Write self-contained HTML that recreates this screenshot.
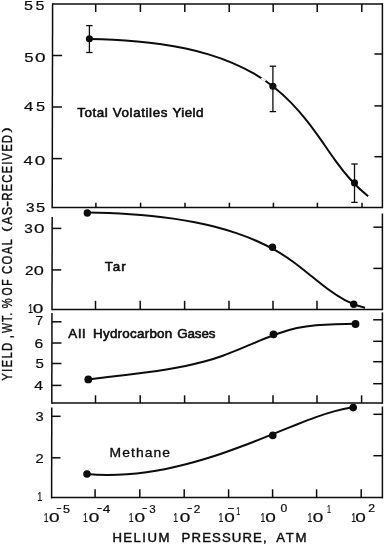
<!DOCTYPE html>
<html lang="en"><head><meta charset="utf-8"><title>Yield vs Helium Pressure</title>
<style>
html,body{margin:0;padding:0;background:#fff}
svg{display:block}
svg line,svg path{stroke:#0c0c0c;stroke-linecap:butt}
svg circle{fill:#0c0c0c;stroke:none}
svg text{font-family:"Liberation Sans","DejaVu Sans",sans-serif;fill:#0c0c0c;stroke:#0c0c0c;stroke-width:0.35px;stroke-linejoin:round}
.tk{stroke-width:0.2px}
.ax{stroke-width:0.4px}
.yl{stroke-width:0.65px}
.lb{stroke-width:0.55px}
.lt{stroke-width:0.3px}
</style></head><body>
<svg width="385" height="545" viewBox="0 0 385 545">
<rect x="0" y="0" width="385" height="545" fill="#fff" stroke="none"/>
<g class="fr">
<line x1="52.6" y1="3.2" x2="52.19" y2="208.2" stroke-width="1.5"/>
<line x1="382.4" y1="3.2" x2="382.4" y2="208.2" stroke-width="1.5"/>
<line x1="52.6" y1="4.1" x2="382.4" y2="4" stroke-width="1.5"/>
<line x1="52.19" y1="207.4" x2="382.4" y2="207.4" stroke-width="1.5"/>
<line x1="52.5" y1="55.5" x2="62.1" y2="55.5" stroke-width="1.5"/>
<line x1="52.39" y1="107" x2="61.99" y2="107" stroke-width="1.5"/>
<line x1="52.29" y1="158.6" x2="61.89" y2="158.6" stroke-width="1.5"/>
<line x1="374.4" y1="54" x2="382.4" y2="54" stroke-width="1.5"/>
<line x1="374.4" y1="105.9" x2="382.4" y2="105.9" stroke-width="1.5"/>
<line x1="374.4" y1="156.7" x2="382.4" y2="156.7" stroke-width="1.5"/>
<line x1="95.7" y1="4" x2="95.7" y2="12" stroke-width="1.5"/>
<line x1="95.9" y1="202.7" x2="95.9" y2="207.4" stroke-width="1.5"/>
<line x1="140.4" y1="4" x2="140.4" y2="12" stroke-width="1.5"/>
<line x1="140.6" y1="202.7" x2="140.6" y2="207.4" stroke-width="1.5"/>
<line x1="184.8" y1="4" x2="184.8" y2="12" stroke-width="1.5"/>
<line x1="185" y1="202.7" x2="185" y2="207.4" stroke-width="1.5"/>
<line x1="229.2" y1="4" x2="229.2" y2="12" stroke-width="1.5"/>
<line x1="229.4" y1="202.7" x2="229.4" y2="207.4" stroke-width="1.5"/>
<line x1="273.2" y1="4" x2="273.2" y2="12" stroke-width="1.5"/>
<line x1="273.4" y1="202.7" x2="273.4" y2="207.4" stroke-width="1.5"/>
<line x1="317.2" y1="4" x2="317.2" y2="12" stroke-width="1.5"/>
<line x1="317.4" y1="202.7" x2="317.4" y2="207.4" stroke-width="1.5"/>
<line x1="361.8" y1="4" x2="361.8" y2="12" stroke-width="1.5"/>
<line x1="362" y1="202.7" x2="362" y2="207.4" stroke-width="1.5"/>
<line x1="52.17" y1="217" x2="51.98" y2="310.2" stroke-width="1.5"/>
<line x1="382.4" y1="213.5" x2="382.4" y2="310.2" stroke-width="1.5"/>
<line x1="51.98" y1="309.4" x2="382.4" y2="309.4" stroke-width="1.5"/>
<line x1="52.15" y1="228.4" x2="61.35" y2="228.4" stroke-width="1.5"/>
<line x1="52.06" y1="269.9" x2="61.26" y2="269.9" stroke-width="1.5"/>
<line x1="373.4" y1="227.2" x2="382.4" y2="227.2" stroke-width="1.5"/>
<line x1="373.4" y1="268.4" x2="382.4" y2="268.4" stroke-width="1.5"/>
<line x1="95.5" y1="300.8" x2="95.5" y2="309.4" stroke-width="1.5"/>
<line x1="140.2" y1="300.8" x2="140.2" y2="309.4" stroke-width="1.5"/>
<line x1="184.6" y1="300.8" x2="184.6" y2="309.4" stroke-width="1.5"/>
<line x1="229" y1="300.8" x2="229" y2="309.4" stroke-width="1.5"/>
<line x1="273" y1="300.8" x2="273" y2="309.4" stroke-width="1.5"/>
<line x1="317" y1="300.8" x2="317" y2="309.4" stroke-width="1.5"/>
<line x1="51.97" y1="313" x2="51.79" y2="403.8" stroke-width="1.5"/>
<line x1="382.4" y1="312.4" x2="382.4" y2="403.8" stroke-width="1.5"/>
<line x1="51.79" y1="403" x2="382.4" y2="403" stroke-width="1.5"/>
<line x1="51.96" y1="321.8" x2="61.56" y2="321.8" stroke-width="1.5"/>
<line x1="51.91" y1="343" x2="61.51" y2="343" stroke-width="1.5"/>
<line x1="51.87" y1="363.5" x2="61.47" y2="363.5" stroke-width="1.5"/>
<line x1="51.83" y1="385.4" x2="61.43" y2="385.4" stroke-width="1.5"/>
<line x1="373.2" y1="319.8" x2="382.4" y2="319.8" stroke-width="1.5"/>
<line x1="373.2" y1="341.3" x2="382.4" y2="341.3" stroke-width="1.5"/>
<line x1="373.2" y1="361.7" x2="382.4" y2="361.7" stroke-width="1.5"/>
<line x1="373.2" y1="383.7" x2="382.4" y2="383.7" stroke-width="1.5"/>
<line x1="95.5" y1="395.3" x2="95.5" y2="403" stroke-width="1.5"/>
<line x1="140.2" y1="395.3" x2="140.2" y2="403" stroke-width="1.5"/>
<line x1="184.6" y1="395.3" x2="184.6" y2="403" stroke-width="1.5"/>
<line x1="229" y1="395.3" x2="229" y2="403" stroke-width="1.5"/>
<line x1="273" y1="395.3" x2="273" y2="403" stroke-width="1.5"/>
<line x1="317" y1="395.3" x2="317" y2="403" stroke-width="1.5"/>
<line x1="361.6" y1="395.3" x2="361.6" y2="403" stroke-width="1.5"/>
<line x1="51.78" y1="407.6" x2="51.6" y2="498.4" stroke-width="1.5"/>
<line x1="382.4" y1="406.5" x2="382.4" y2="498.4" stroke-width="1.5"/>
<line x1="51.6" y1="497.6" x2="382.4" y2="497.6" stroke-width="1.5"/>
<line x1="51.77" y1="416.3" x2="60.57" y2="416.3" stroke-width="1.5"/>
<line x1="51.68" y1="457.8" x2="60.48" y2="457.8" stroke-width="1.5"/>
<line x1="373.4" y1="414.3" x2="382.4" y2="414.3" stroke-width="1.5"/>
<line x1="373.4" y1="455.7" x2="382.4" y2="455.7" stroke-width="1.5"/>
<line x1="95.1" y1="489.3" x2="95.1" y2="497.6" stroke-width="1.5"/>
<line x1="139.8" y1="489.3" x2="139.8" y2="497.6" stroke-width="1.5"/>
<line x1="184.2" y1="489.3" x2="184.2" y2="497.6" stroke-width="1.5"/>
<line x1="228.6" y1="489.3" x2="228.6" y2="497.6" stroke-width="1.5"/>
<line x1="272.6" y1="489.3" x2="272.6" y2="497.6" stroke-width="1.5"/>
<line x1="316.6" y1="489.3" x2="316.6" y2="497.6" stroke-width="1.5"/>
<line x1="361.2" y1="489.3" x2="361.2" y2="497.6" stroke-width="1.5"/>
</g>
<g class="eb">
<line x1="89.4" y1="25.6" x2="89.4" y2="52.5" stroke-width="1.3"/>
<line x1="86.2" y1="25.6" x2="92.6" y2="25.6" stroke-width="1.3"/>
<line x1="86.2" y1="52.5" x2="92.6" y2="52.5" stroke-width="1.3"/>
<line x1="272.9" y1="66.2" x2="272.9" y2="111.6" stroke-width="1.3"/>
<line x1="269.7" y1="66.2" x2="276.1" y2="66.2" stroke-width="1.3"/>
<line x1="269.7" y1="111.6" x2="276.1" y2="111.6" stroke-width="1.3"/>
<line x1="354.5" y1="164" x2="354.5" y2="202.4" stroke-width="1.3"/>
<line x1="351.3" y1="164" x2="357.7" y2="164" stroke-width="1.3"/>
<line x1="351.3" y1="202.4" x2="357.7" y2="202.4" stroke-width="1.3"/>
</g>
<g class="cv">
<path d="M89.79,38.92 C97.43,39.1 105.24,39.37 113.16,39.78 C121.08,40.18 129.12,40.73 137.19,41.46 C145.27,42.2 153.39,43.13 161.5,44.29 C169.6,45.46 177.68,46.88 185.68,48.59 C193.68,50.3 201.59,52.3 209.35,54.66 C217.12,57.01 224.73,59.72 232.13,62.83 C239.53,65.93 246.71,69.44 253.61,73.41 C260.51,77.37 267.13,81.79 273.41,86.72 C279.68,91.64 285.62,97.07 291.23,102.85 C296.84,108.62 302.14,114.75 307.13,121.06 C312.13,127.38 316.79,133.89 321.35,140.44 C325.9,146.99 330.37,153.58 335.05,160.05 C339.73,166.53 344.63,172.89 350.04,178.98 C355.45,185.07 361.38,190.89 368.12,196.29" stroke-width="2.0" fill="none" stroke-linecap="round"/>
<path d="M87.87,212.5 C94.76,212.64 101.75,212.84 108.8,213.12 C115.86,213.4 122.99,213.76 130.15,214.24 C137.32,214.71 144.52,215.3 151.72,216.02 C158.93,216.74 166.15,217.61 173.33,218.63 C180.52,219.66 187.68,220.86 194.78,222.25 C201.88,223.64 208.92,225.23 215.87,227.04 C222.82,228.84 229.68,230.88 236.42,233.16 C243.15,235.44 249.76,237.97 256.22,240.78 C262.68,243.59 268.98,246.68 275.12,250.15 C281.25,253.61 287.21,257.49 293.04,261.76 C298.86,266.02 304.56,270.6 310.25,275.2 C315.94,279.8 321.61,284.42 327.41,288.72 C333.21,293.02 339.14,297 345.35,300.3 C351.57,303.6 358.08,306.22 365.04,307.79" stroke-width="2.0" fill="none" stroke-linecap="round"/>
<path d="M87.93,379.48 C94.64,378.67 101.3,377.89 107.92,377.11 C114.54,376.33 121.12,375.56 127.65,374.76 C134.19,373.96 140.68,373.13 147.13,372.25 C153.59,371.37 160.01,370.43 166.38,369.4 C172.76,368.38 179.1,367.26 185.41,365.98 C191.72,364.69 197.99,363.25 204.23,361.57 C210.47,359.89 216.67,357.97 222.85,355.75 C229.03,353.53 235.17,351.04 241.31,348.45 C247.45,345.87 253.59,343.2 259.73,340.64 C265.88,338.08 272.04,335.62 278.23,333.45 C284.42,331.29 290.65,329.42 296.93,328.04 C303.21,326.66 309.55,325.77 315.96,325.18 C322.37,324.6 328.86,324.32 335.45,324.16 C342.03,324 348.71,323.96 355.51,323.85" stroke-width="2.0" fill="none" stroke-linecap="round"/>
<path d="M86.63,473.98 C93.45,474.55 100.21,474.84 106.91,474.88 C113.62,474.91 120.26,474.69 126.85,474.23 C133.44,473.78 139.97,473.09 146.47,472.2 C152.96,471.31 159.4,470.21 165.81,468.93 C172.22,467.65 178.58,466.19 184.92,464.57 C191.25,462.95 197.55,461.18 203.83,459.28 C210.1,457.37 216.35,455.34 222.58,453.19 C228.81,451.05 235.02,448.8 241.22,446.48 C247.41,444.16 253.6,441.76 259.77,439.32 C265.95,436.88 272.12,434.4 278.29,431.91 C284.46,429.42 290.62,426.92 296.8,424.46 C302.97,422 309.16,419.58 315.35,417.36 C321.54,415.14 327.75,413.1 333.98,411.39 C340.2,409.68 346.45,408.29 352.72,407.36" stroke-width="2.0" fill="none" stroke-linecap="round"/>
</g>
<rect x="262.3" y="77" width="2.2" height="5" fill="#fff" stroke="none" transform="rotate(-55 263.4 79.5)"/>
<g class="pt">
<circle cx="89.4" cy="38.7" r="3.55"/>
<circle cx="272.9" cy="86.2" r="3.55"/>
<circle cx="354.5" cy="182.9" r="3.55"/>
<circle cx="87.3" cy="213" r="3.7"/>
<circle cx="272.5" cy="247.2" r="3.7"/>
<circle cx="353.7" cy="304.2" r="3.7"/>
<circle cx="88.3" cy="379.4" r="3.9"/>
<circle cx="273.5" cy="334.3" r="3.9"/>
<circle cx="355.5" cy="324" r="3.9"/>
<circle cx="87" cy="474" r="3.8"/>
<circle cx="272.8" cy="435.4" r="3.8"/>
<circle cx="353.2" cy="407.6" r="3.8"/>
</g>
<g>
<text y="10.4" font-size="12.7" class="tk"><tspan x="24.12" textLength="8.97" lengthAdjust="spacingAndGlyphs">5</tspan><tspan x="35.42" textLength="8.97" lengthAdjust="spacingAndGlyphs">5</tspan></text>
<text y="61.7" font-size="12.7" class="tk"><tspan x="24.29" textLength="9.31" lengthAdjust="spacingAndGlyphs">5</tspan><tspan x="34.91" textLength="10.57" lengthAdjust="spacingAndGlyphs">0</tspan></text>
<text y="111.4" font-size="12.7" class="tk"><tspan x="24.09" textLength="9.43" lengthAdjust="spacingAndGlyphs">4</tspan><tspan x="36.01" textLength="9.08" lengthAdjust="spacingAndGlyphs">5</tspan></text>
<text y="164.6" font-size="12.7" class="tk"><tspan x="23.49" textLength="9.43" lengthAdjust="spacingAndGlyphs">4</tspan><tspan x="34.82" textLength="10.46" lengthAdjust="spacingAndGlyphs">0</tspan></text>
<text y="212.4" font-size="12.7" class="tk"><tspan x="26.05" textLength="8.51" lengthAdjust="spacingAndGlyphs">3</tspan><tspan x="35.9" textLength="9.2" lengthAdjust="spacingAndGlyphs">5</tspan></text>
<text y="232.6" font-size="12.7" class="tk"><tspan x="24.35" textLength="8.51" lengthAdjust="spacingAndGlyphs">3</tspan><tspan x="34.12" textLength="10.46" lengthAdjust="spacingAndGlyphs">0</tspan></text>
<text y="275.3" font-size="12.7" class="tk"><tspan x="25.05" textLength="8.51" lengthAdjust="spacingAndGlyphs">2</tspan><tspan x="33.74" textLength="10.11" lengthAdjust="spacingAndGlyphs">0</tspan></text>
<text y="313.2" font-size="12.7" class="tk"><tspan x="27.96" textLength="5.08" lengthAdjust="spacingAndGlyphs">1</tspan><tspan x="32.71" textLength="10.57" lengthAdjust="spacingAndGlyphs">0</tspan></text>
<text y="325.3" font-size="12.7" class="tk"><tspan x="35.51" textLength="7.59" lengthAdjust="spacingAndGlyphs">7</tspan></text>
<text y="347.7" font-size="12.7" class="tk"><tspan x="34.43" textLength="8.74" lengthAdjust="spacingAndGlyphs">6</tspan></text>
<text y="368.4" font-size="12.7" class="tk"><tspan x="35.45" textLength="8.39" lengthAdjust="spacingAndGlyphs">5</tspan></text>
<text y="390" font-size="12.7" class="tk"><tspan x="34.32" textLength="8.85" lengthAdjust="spacingAndGlyphs">4</tspan></text>
<text y="421" font-size="12.7" class="tk"><tspan x="35.47" textLength="8.16" lengthAdjust="spacingAndGlyphs">3</tspan></text>
<text y="462.9" font-size="12.7" class="tk"><tspan x="35.47" textLength="8.16" lengthAdjust="spacingAndGlyphs">2</tspan></text>
<text y="500.8" font-size="12.7" class="tk"><tspan x="37.36" textLength="5.08" lengthAdjust="spacingAndGlyphs">1</tspan></text>
</g>
<g>
<text y="521.5" font-size="12.1" class="tk"><tspan x="43.79" textLength="4.84" lengthAdjust="spacingAndGlyphs">1</tspan><tspan x="48.91" textLength="10.57" lengthAdjust="spacingAndGlyphs">0</tspan></text>
<text transform="translate(56.3,511.1) scale(1.65,1)" font-size="10" letter-spacing="0" text-anchor="start" class="tk mn" >-</text>
<text y="512.6" font-size="10" class="tk"><tspan x="63.04" textLength="7.01" lengthAdjust="spacingAndGlyphs">5</tspan></text>
<text y="521.5" font-size="12.1" class="tk"><tspan x="83.09" textLength="4.84" lengthAdjust="spacingAndGlyphs">1</tspan><tspan x="88.71" textLength="10.57" lengthAdjust="spacingAndGlyphs">0</tspan></text>
<text transform="translate(96.7,511.1) scale(1.65,1)" font-size="10" letter-spacing="0" text-anchor="start" class="tk mn" >-</text>
<text y="512.6" font-size="10" class="tk"><tspan x="102.71" textLength="7.59" lengthAdjust="spacingAndGlyphs">4</tspan></text>
<text y="521.5" font-size="12.1" class="tk"><tspan x="128.79" textLength="4.84" lengthAdjust="spacingAndGlyphs">1</tspan><tspan x="134.61" textLength="10.57" lengthAdjust="spacingAndGlyphs">0</tspan></text>
<text transform="translate(142,511.1) scale(1.65,1)" font-size="10" letter-spacing="0" text-anchor="start" class="tk mn" >-</text>
<text y="512.6" font-size="10" class="tk"><tspan x="149.28" textLength="6.44" lengthAdjust="spacingAndGlyphs">3</tspan></text>
<text y="521.5" font-size="12.1" class="tk"><tspan x="173.19" textLength="4.84" lengthAdjust="spacingAndGlyphs">1</tspan><tspan x="179.71" textLength="10.57" lengthAdjust="spacingAndGlyphs">0</tspan></text>
<text transform="translate(186.9,511.1) scale(1.65,1)" font-size="10" letter-spacing="0" text-anchor="start" class="tk mn" >-</text>
<text y="512.6" font-size="10" class="tk"><tspan x="193.87" textLength="6.55" lengthAdjust="spacingAndGlyphs">2</tspan></text>
<text y="521.5" font-size="12.1" class="tk"><tspan x="218.49" textLength="4.84" lengthAdjust="spacingAndGlyphs">1</tspan><tspan x="224.31" textLength="10.57" lengthAdjust="spacingAndGlyphs">0</tspan></text>
<text transform="translate(227.5,511.1) scale(2.1,1)" font-size="10" letter-spacing="0" text-anchor="start" class="tk mn" >-</text>
<text y="514.6" font-size="10" class="tk"><tspan x="236.34" textLength="4" lengthAdjust="spacingAndGlyphs">1</tspan></text>
<text y="521.5" font-size="12.1" class="tk"><tspan x="260.49" textLength="4.84" lengthAdjust="spacingAndGlyphs">1</tspan><tspan x="265.21" textLength="10.57" lengthAdjust="spacingAndGlyphs">0</tspan></text>
<text y="512.4" font-size="10" class="tk"><tspan x="280.56" textLength="6.78" lengthAdjust="spacingAndGlyphs">0</tspan></text>
<text y="521.5" font-size="12.1" class="tk"><tspan x="307.59" textLength="4.84" lengthAdjust="spacingAndGlyphs">1</tspan><tspan x="312.71" textLength="10.57" lengthAdjust="spacingAndGlyphs">0</tspan></text>
<text y="512.6" font-size="10" class="tk"><tspan x="327.04" textLength="4" lengthAdjust="spacingAndGlyphs">1</tspan></text>
<text y="521.5" font-size="12.1" class="tk"><tspan x="351.29" textLength="4.84" lengthAdjust="spacingAndGlyphs">1</tspan><tspan x="355.21" textLength="10.57" lengthAdjust="spacingAndGlyphs">0</tspan></text>
<text y="512.4" font-size="10" class="tk"><tspan x="368.16" textLength="6.78" lengthAdjust="spacingAndGlyphs">2</tspan></text>
</g>
<text transform="translate(77.3,116.9) scale(1.08,1)" font-size="12.4" class="lb"><tspan x="0" letter-spacing="0.5">Total </tspan><tspan x="32.87" letter-spacing="0.55">Volatiles </tspan><tspan x="88.06" letter-spacing="0.4">Yield</tspan></text>
<text transform="translate(104.8,271.3) scale(1.08,1)" font-size="12.4" class="lb"><tspan x="0" letter-spacing="1.1">Tar</tspan></text>
<text transform="translate(68.2,337.8) scale(1.08,1)" font-size="12.4" class="lb"><tspan x="0" letter-spacing="1.0">All </tspan><tspan x="22.96" letter-spacing="0.25">Hydrocarbon </tspan><tspan x="100.93" letter-spacing="-0.1">Gases</tspan></text>
<text transform="translate(109.5,457.1) scale(1.14,1)" font-size="12.2" letter-spacing="0.95" text-anchor="start" class="lb lt" >Methane</text>
<text transform="translate(112.4,541.6) scale(1.1,1)" font-size="12" letter-spacing="1.3" text-anchor="start" class="ax" >HELIUM</text>
<text transform="translate(181.6,541.6) scale(1.1,1)" font-size="12" letter-spacing="1.0" text-anchor="start" class="ax" >PRESSURE,</text>
<text transform="translate(276.2,541.6) scale(1.1,1)" font-size="12" letter-spacing="1.5" text-anchor="start" class="ax" >ATM</text>
<g transform="translate(12.2,381) rotate(-90)" font-size="13.9" class="yl">
<text transform="translate(0.2,0) scale(0.821,1)" letter-spacing="1.55">YIELD</text>
<text transform="translate(42.6,0) scale(0.91,1)" letter-spacing="0">,</text>
<text transform="translate(47.9,0) scale(0.762,1)" letter-spacing="1.43">WT.</text>
<text transform="translate(72.8,0) scale(0.8,1)" letter-spacing="0">%</text>
<text transform="translate(85.6,0) scale(0.747,1)" letter-spacing="2.22">OF</text>
<text transform="translate(107,0) scale(0.821,1)" letter-spacing="1.56">COAL</text>
<text transform="translate(149,-2) scale(1.4,1)" font-size="11.2">(</text>
<text transform="translate(156.3,0) scale(0.9,1)" letter-spacing="1.1">AS</text>
<text transform="translate(174.2,0) scale(1.25,1)" letter-spacing="0">-</text>
<text transform="translate(180.3,0) scale(0.821,1)" letter-spacing="1.3">RECEIVED</text>
<text transform="translate(248.4,-2) scale(1.4,1)" font-size="11.2">)</text>
</g>
</svg>
</body></html>
